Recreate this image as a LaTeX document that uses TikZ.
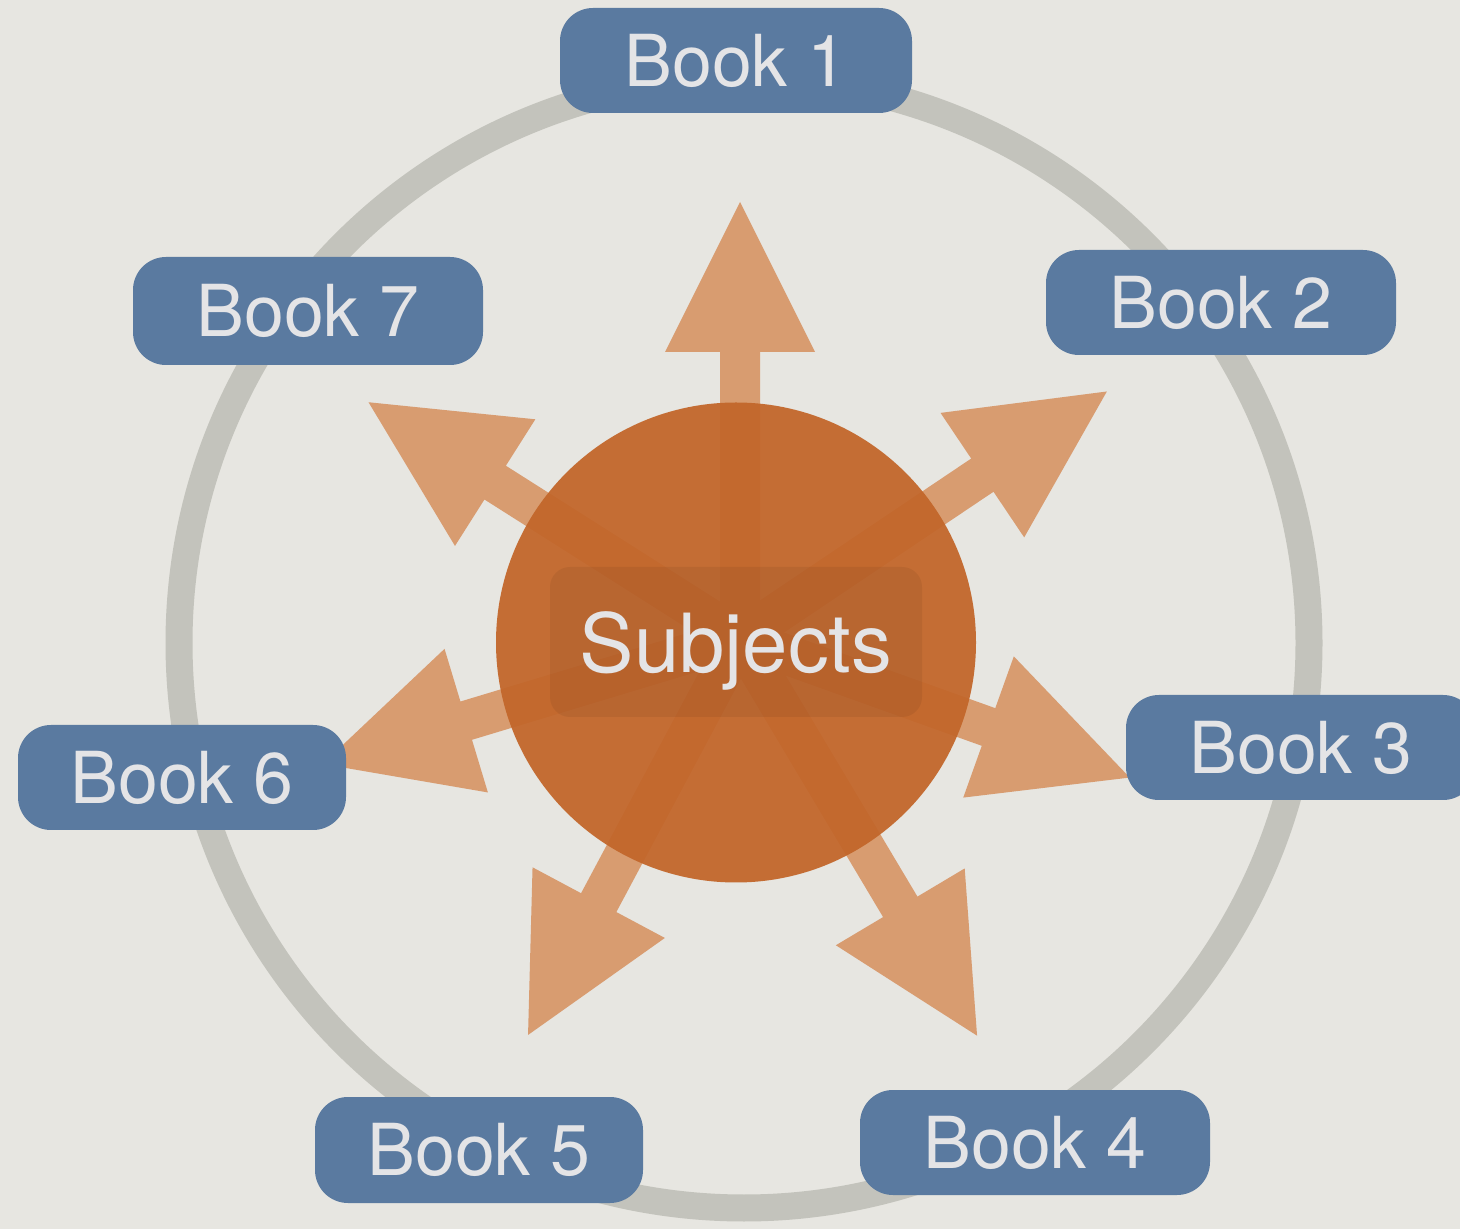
\documentclass[tikz,border=0pt]{standalone}
\usepackage{fontspec}
\setmainfont{TeX Gyre Heros}
\usepackage{xcolor}
\usepackage{tikz}
\definecolor{paper}{HTML}{E7E6E1}
\definecolor{ringgray}{HTML}{C3C3BC}
\definecolor{arroworange}{HTML}{D89C70}
\definecolor{huborange}{HTML}{C2662A}
\definecolor{bookblue}{HTML}{5A7AA0}
\definecolor{labelwhite}{HTML}{E4E4E6}

\begin{document}
\begin{tikzpicture}[
    book/.style={rounded corners=0.33cm, fill=bookblue, text=labelwhite,
      minimum width=3.5cm, minimum height=1.05cm, inner sep=0pt,
      font=\fontsize{20.4}{24}\selectfont},
    hub/.style={circle, fill=huborange, fill opacity=0.94,
      minimum size=4.8cm, inner sep=0pt},
    subjbox/.style={rounded corners=0.2cm, fill=black, fill opacity=0.06,
      text opacity=1, text=labelwhite, minimum width=3.72cm,
      minimum height=1.5cm, text depth=0pt, inner sep=0pt,
      font=\fontsize{23.2}{28}\selectfont}]
    \useasboundingbox (0,0) rectangle (14.6,12.29);
    \clip (0,0) rectangle (14.6,12.29);
    \fill[paper] (0,0) rectangle (14.6,12.29);
    % outer ring
    \draw[ringgray, line width=0.27cm] (7.44,5.86) circle (5.65cm);
    % fat arrows out of the hub
    \coordinate (o) at (7.40,5.91);
    \foreach \ang/\len in {90/4.36, 33.9/4.42, -19.7/4.14, -59.2/4.63,
                           -118.1/4.50, 196.8/4.36, 147.6/4.40} {
      \begin{scope}[shift={(o)}, rotate=\ang]
        \fill[arroworange] (0,-0.2) -- (\len-1.5,-0.2) -- (\len-1.5,-0.75)
          -- (\len,0) -- (\len-1.5,0.75) -- (\len-1.5,0.2) -- (0,0.2) -- cycle;
      \end{scope}
    }
    \node[hub] (hub) at (7.36,5.865) {};
    \node[subjbox] (subj) at (7.36,5.87) {Subjects};
    % the books
    \node[book, minimum width=3.52cm] (book1) at (7.36,11.685) {Book 1};
    \node[book] (book2) at (12.21,9.265) {Book 2};
    \node[book] (book3) at (13.01,4.815) {Book 3};
    \node[book] (book4) at (10.35,0.865) {Book 4};
    \node[book, minimum width=3.28cm, minimum height=1.06cm] (book5) at (4.79,0.79) {Book 5};
    \node[book, minimum width=3.28cm] (book6) at (1.82,4.515) {Book 6};
    \node[book, minimum height=1.08cm] (book7) at (3.08,9.18) {Book 7};
  \end{tikzpicture}
\end{document}
